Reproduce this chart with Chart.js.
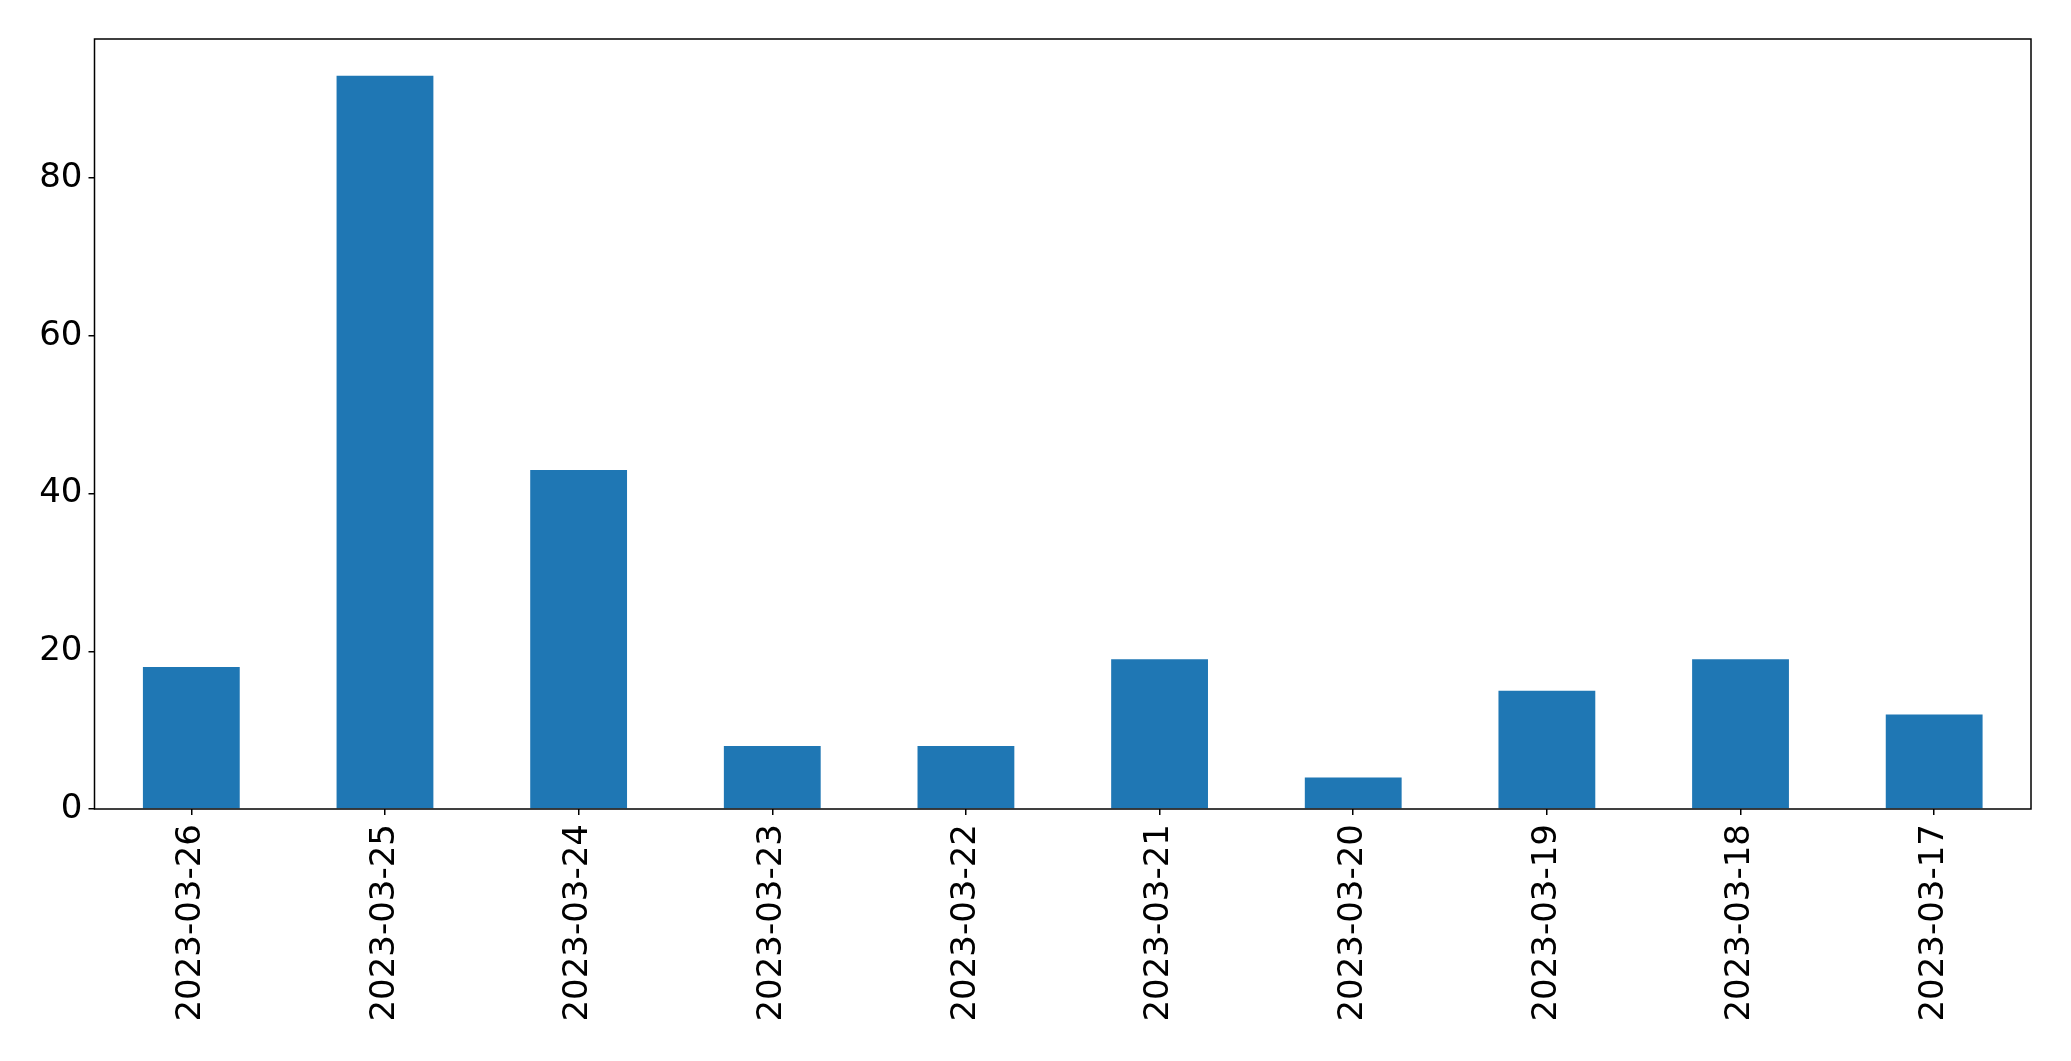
<!DOCTYPE html>
<html>
<head>
<meta charset="utf-8">
<script src="https://cdn.jsdelivr.net/npm/chart.js@4"></script>
<style>
html,body{margin:0;padding:0;background:#fff;}
#wrap{width:2071px;height:1061px;position:relative;}
</style>
</head>
<body>
<div id="wrap"><canvas id="c" width="2071" height="1061"></canvas></div>
<script>
const categories = ["2023-03-26","2023-03-25","2023-03-24","2023-03-23","2023-03-22","2023-03-21","2023-03-20","2023-03-19","2023-03-18","2023-03-17"];
const values = [18, 93, 43, 8, 8, 19, 4, 15, 19, 12];
const yTicks = [0, 20, 40, 60, 80];

const frame = {
  id: 'frame',
  afterDatasetsDraw(chart) {
    const a = chart.chartArea, ctx = chart.ctx;
    ctx.save();
    ctx.strokeStyle = '#000';
    ctx.lineWidth = 1.5;
    ctx.strokeRect(a.left, a.top, a.right - a.left, a.bottom - a.top);
    ctx.restore();
  }
};

new Chart(document.getElementById('c'), {
  type: 'bar',
  data: {
    labels: categories,
    datasets: [{
      data: values,
      backgroundColor: '#1f77b4',
      barPercentage: 0.5,
      categoryPercentage: 1.0
    }]
  },
  options: {
    responsive: false,
    animation: false,
    devicePixelRatio: 1,
    layout: { padding: { top: 39, right: 40, left: 0, bottom: 0 } },
    plugins: { legend: { display: false }, tooltip: { enabled: false } },
    scales: {
      x: {
        grid: { display: true, offset: false, drawOnChartArea: false, drawTicks: true, tickLength: 6, color: '#000', lineWidth: 1.5 },
        border: { display: false },
        ticks: {
          color: '#000',
          font: { family: 'DejaVu Sans', size: 34 },
          minRotation: 90, maxRotation: 90, autoSkip: false, padding: 9
        },
        afterFit(s) { s.height = 252; }
      },
      y: {
        min: 0,
        max: 97.65,
        afterBuildTicks(s) { s.ticks = yTicks.map(v => ({ value: v })); },
        grid: { display: true, drawOnChartArea: false, drawTicks: true, tickLength: 6, color: '#000', lineWidth: 1.5 },
        border: { display: false },
        ticks: {
          color: '#000',
          font: { family: 'DejaVu Sans', size: 34 },
          padding: 6
        },
        afterFit(s) { s.width = 94.5; }
      }
    }
  },
  plugins: [frame]
});
</script>
</body>
</html>
